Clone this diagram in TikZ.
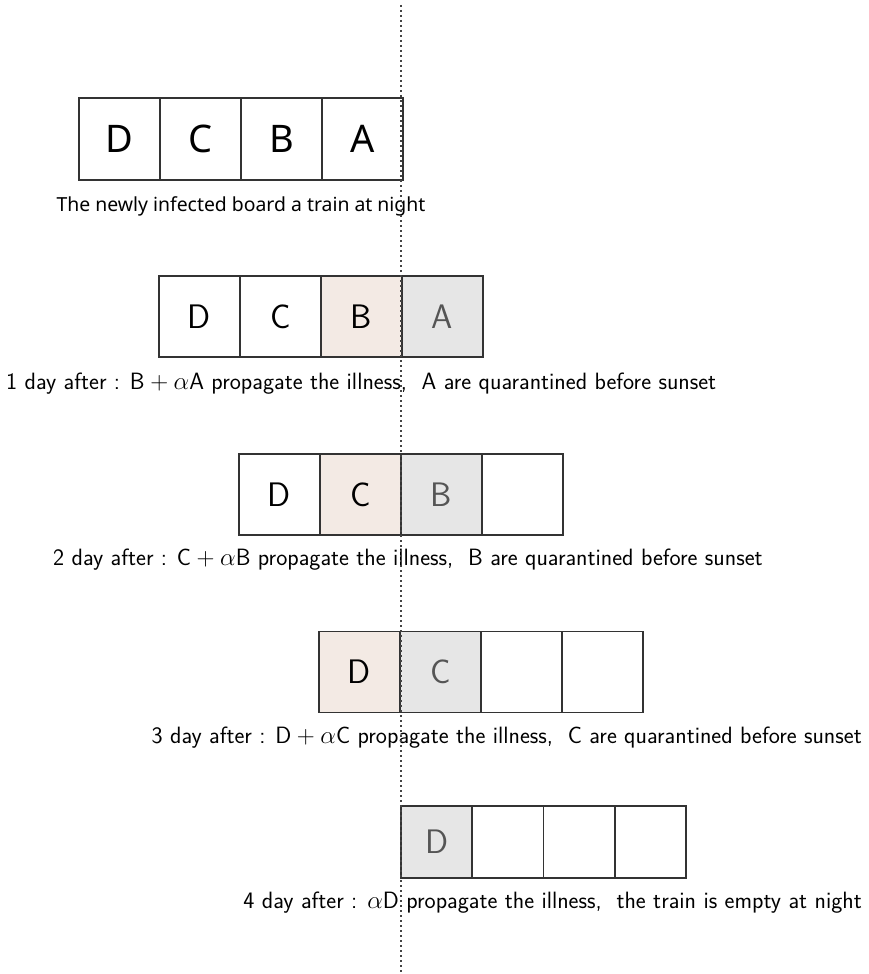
\documentclass[tikz,border=0pt]{standalone}
\usepackage{fontspec}
\newfontfamily\boardfont{Noto Sans}
\definecolor{edge}{HTML}{333333}
\definecolor{sick}{HTML}{F3EAE4}
\definecolor{quar}{HTML}{E6E6E6}
\definecolor{quartext}{HTML}{555555}
\definecolor{guide}{HTML}{444444}
\begin{document}
\begin{tikzpicture}[x=1pt,y=-1pt,
  cell/.style={draw=edge, line width=1.8pt, minimum width=81pt, minimum height=81pt,
    inner sep=0pt, font=\fontsize{34}{34}\sffamily},
  firstcell/.style={cell, minimum height=82pt, font=\fontsize{38}{38}\boardfont},
  smallcell/.style={cell, minimum width=71.25pt, minimum height=72pt},
  infected/.style={fill=sick},
  quarantined/.style={fill=quar, text=quartext},
  caption/.style={anchor=base west, inner sep=0pt, font=\fontsize{23.6}{28}\sffamily},
  rightcaption/.style={caption, anchor=base east},
  firstcaption/.style={anchor=base, inner sep=0pt, font=\fontsize{19.4}{24}\boardfont}]
\useasboundingbox (0,0) rectangle (868,974);
\fill[white] (0,0) rectangle (868,974);

% night: the train boards
\node[firstcell] (r1d) at (119.5,139) {D};
\node[firstcell] (r1c) at (200.5,139) {C};
\node[firstcell] (r1b) at (281.5,139) {B};
\node[firstcell] (r1a) at (362.5,139) {A};
\node[firstcaption] (lab0) at (241,211) {The newly infected board a train at night};

% day 1
\node[cell] (r2d) at (199.5,316.5) {D};
\node[cell] (r2c) at (280.5,316.5) {C};
\node[cell, infected] (r2b) at (361.5,316.5) {B};
\node[cell, quarantined] (r2a) at (442.5,316.5) {A};
\node[caption] (lab1) at (6,389) {1 day after : B${}+\alpha$A propagate the illness,\ \ A are quarantined before sunset};

% day 2
\node[cell] (r3d) at (279.5,494.5) {D};
\node[cell, infected] (r3c) at (360.5,494.5) {C};
\node[cell, quarantined] (r3b) at (441.5,494.5) {B};
\node[cell] (r3e) at (522.5,494.5) {};
\node[caption] (lab2) at (53,565) {2 day after : C${}+\alpha$B propagate the illness,\ \ B are quarantined before sunset};

% day 3
\node[cell, infected] (r4d) at (359.5,672) {D};
\node[cell, quarantined] (r4c) at (440.5,672) {C};
\node[cell] (r4e) at (521.5,672) {};
\node[cell] (r4f) at (602.5,672) {};
\node[rightcaption] (lab3) at (862,743) {3 day after : D${}+\alpha$C propagate the illness,\ \ C are quarantined before sunset};

% day 4
\node[smallcell, quarantined] (r5d) at (436.6,842) {D};
\node[smallcell] (r5e) at (507.9,842) {};
\node[smallcell] (r5f) at (579.1,842) {};
\node[smallcell] (r5g) at (650.4,842) {};
\node[rightcaption] (lab4) at (862,908) {4 day after : $\alpha$D propagate the illness,\ \ the train is empty at night};

% sunset line
\coordinate (top) at (401,5);
\coordinate (bottom) at (401,972);
\draw[guide, line width=1.8pt, dash pattern=on 1.8pt off 3.2pt] (top) -- (bottom);
\end{tikzpicture}
\end{document}
